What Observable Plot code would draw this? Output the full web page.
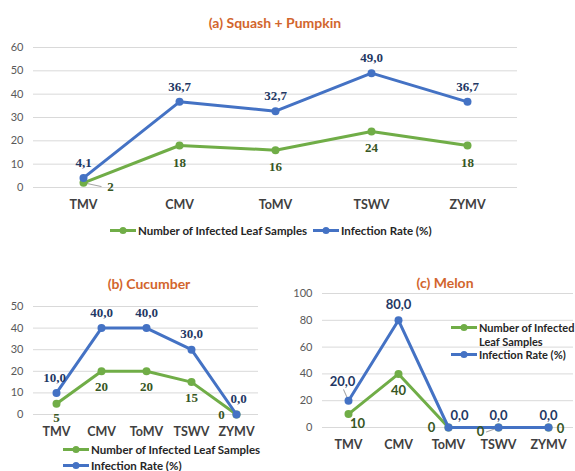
<!DOCTYPE html>
<html><head><meta charset="utf-8">
<script src="https://cdn.jsdelivr.net/npm/d3@7"></script>
<script src="https://cdn.jsdelivr.net/npm/@observablehq/plot@0.6"></script>
<style>
body{margin:0;background:#fff;}
#root{position:relative;width:575px;height:471px;overflow:hidden;font-family:Lato,"Open Sans",sans-serif;}
.title{position:absolute;color:#d2652d;font-weight:bold;font-size:14px;transform:translate(-50%,-50%);white-space:nowrap;}
.leg{position:absolute;display:flex;align-items:center;font-weight:bold;font-size:11.5px;color:#262626;white-space:nowrap;transform:translateY(-50%);line-height:13px;}
.leg svg{margin-right:2px;flex:none;}
.panel{position:absolute;}
</style></head><body><div id="root"></div>
<script>
const viruses = ["TMV","CMV","ToMV","TSWV","ZYMV"];
const squashSamples = [2,18,16,24,18];
const squashRate = [4.1,36.7,32.7,49.0,36.7];
const cucumberSamples = [5,20,20,15,0];
const cucumberRate = [10.0,40.0,40.0,30.0,0.0];
const melonSamples = [10,40,0,0,0];
const melonRate = [20.0,80.0,0.0,0.0,0.0];
const seriesNames = ["Number of Infected Leaf Samples","Infection Rate (%)"];
const titles = ["(a) Squash + Pumpkin","(b) Cucumber","(c) Melon"];
const yTicksA = [0,10,20,30,40,50,60];
const yTicksB = [0,10,20,30,40,50];
const yTicksC = [0,20,40,60,80,100];

const GREEN = "#70ad47", BLUE = "#4472c4";
const GREEN_T = "#375623", BLUE_T = "#1f3864";
const root = document.getElementById("root");

const lineShape = {draw(ctx, l){ ctx.moveTo(0,0); ctx.lineTo(0,-l); }};

function panel(o){
  const rows = viruses.map((v,i)=>({virus:v, samples:o.samples[i], rate:o.rate[i], i}));
  const fmt = d => d.toFixed(1).replace(".", ",");
  const marks = [
    Plot.gridY(o.ticks, {stroke:"#d9d9d9", strokeOpacity:1, strokeWidth:1}),
    Plot.axisY(o.ticks, {tickSize:0, tickPadding:o.ytp ?? 10, fontSize:11, fill:"#595959"}),
    Plot.axisX({tickSize:0, tickPadding:13, fontSize:12.5, fontWeight:"bold", fill:"#404040"}),
  ];
  if (o.leaders) for (const L of o.leaders) {
    marks.push(Plot.vector([rows[L.i]], {x:"virus", y: L.s === "rate" ? "rate" : "samples", length:L.len, rotate:L.rot, anchor:"start", shape:lineShape, stroke:"#a6a6a6", strokeWidth:1}));
  }
  marks.push(
    Plot.line(rows, {x:"virus", y:"samples", stroke:GREEN, strokeWidth:3}),
    Plot.dot(rows, {x:"virus", y:"samples", r:4, fill:GREEN}),
    Plot.line(rows, {x:"virus", y:"rate", stroke:BLUE, strokeWidth:3}),
    Plot.dot(rows, {x:"virus", y:"rate", r:4, fill:BLUE})
  );
  rows.forEach((r,i)=>{
    marks.push(Plot.text([r], {x:"virus", y:"samples", text:d=>String(d.samples), dx:o.sOff[i][0], dy:o.sOff[i][1], fill:GREEN_T, fontWeight:"bold", fontSize:o.lfs, fontFamily:o.lff}));
    marks.push(Plot.text([r], {x:"virus", y:"rate", text:d=>fmt(d.rate), dx:o.rOff[i][0], dy:o.rOff[i][1], fill:BLUE_T, fontWeight:"bold", fontSize:o.lfs, fontFamily:o.lff}));
  });
  const svg = Plot.plot({
    width:o.width, height:o.height,
    marginTop:o.mt, marginBottom:o.mb, marginLeft:o.ml, marginRight:o.mr,
    style:{background:"transparent", fontFamily:"Lato, sans-serif", color:"#595959", overflow:"visible"},
    x:{type:"point", domain:viruses, padding:0.5, label:null},
    y:{domain:[0, o.ticks[o.ticks.length-1]], label:null},
    marks
  });
  const div = document.createElement("div");
  div.className = "panel";
  div.style.left = o.left+"px"; div.style.top = o.top+"px";
  div.appendChild(svg);
  root.appendChild(div);
}

function title(t, x, y){
  const d = document.createElement("div");
  d.className = "title"; d.textContent = t;
  d.style.left = x+"px"; d.style.top = y+"px";
  root.appendChild(d);
}
function swatch(c){
  return `<svg width="26" height="10"><line x1="0" x2="26" y1="5" y2="5" stroke="${c}" stroke-width="3"/><circle cx="13" cy="5" r="3.5" fill="${c}"/></svg>`;
}
function legendItem(color, text, x, y, fs){
  const d = document.createElement("div");
  d.className = "leg";
  d.style.left = x+"px"; d.style.top = y+"px";
  if (fs) d.style.fontSize = fs+"px";
  d.innerHTML = (color ? swatch(color) : "") + `<span>${text}</span>`;
  root.appendChild(d);
}

// (a)
title(titles[0], 275, 22);
panel({samples:squashSamples, rate:squashRate, ticks:yTicksA, left:0, top:30, width:575, height:185, mt:17, mb:28, ml:33, mr:58,
  lfs:13, lff:"Liberation Serif, serif",
  rOff:[[0,-15],[0,-15],[0,-15],[0,-15],[0,-15]],
  sOff:[[27,4],[0,17],[0,17],[0,16],[0,17]],
  leaders:[{i:0, s:"samples", len:18, rot:102}]});
legendItem(GREEN, seriesNames[0], 110, 230);
legendItem(BLUE, seriesNames[1], 313, 230);

// (b)
title(titles[1], 149, 283);
panel({samples:cucumberSamples, rate:cucumberRate, ticks:yTicksB, left:0, top:290, width:290, height:150, mt:16, mb:26, ml:33, mr:32,
  lfs:13, lff:"Liberation Serif, serif",
  rOff:[[-2,-15],[0,-15],[0,-15],[0,-16],[2,-16]],
  sOff:[[0,14],[0,16],[0,16],[0,16],[-15,0]]});
legendItem(GREEN, seriesNames[0], 63, 449);
legendItem(BLUE, seriesNames[1], 63, 465);

// (c)
title(titles[2], 445, 282);
panel({samples:melonSamples, rate:melonRate, ticks:yTicksC, left:285, top:285, width:290, height:170, mt:8, mb:28, ml:37, mr:2,
  lfs:13, lff:"Lato, sans-serif",
  rOff:[[-6,-19],[0,-15],[11,-12],[0,-12],[0,-12]],
  sOff:[[9,10],[0,17],[-17,0],[-18,4],[12,1]],
  leaders:[{i:0, s:"rate", len:12, rot:-24},{i:3, s:"samples", len:13, rot:250}]});
legendItem(GREEN, "Number of Infected", 451, 327, 11);
legendItem(null, "Leaf Samples", 479, 341, 11);
legendItem(BLUE, seriesNames[1], 451, 354, 11);
</script></body></html>
